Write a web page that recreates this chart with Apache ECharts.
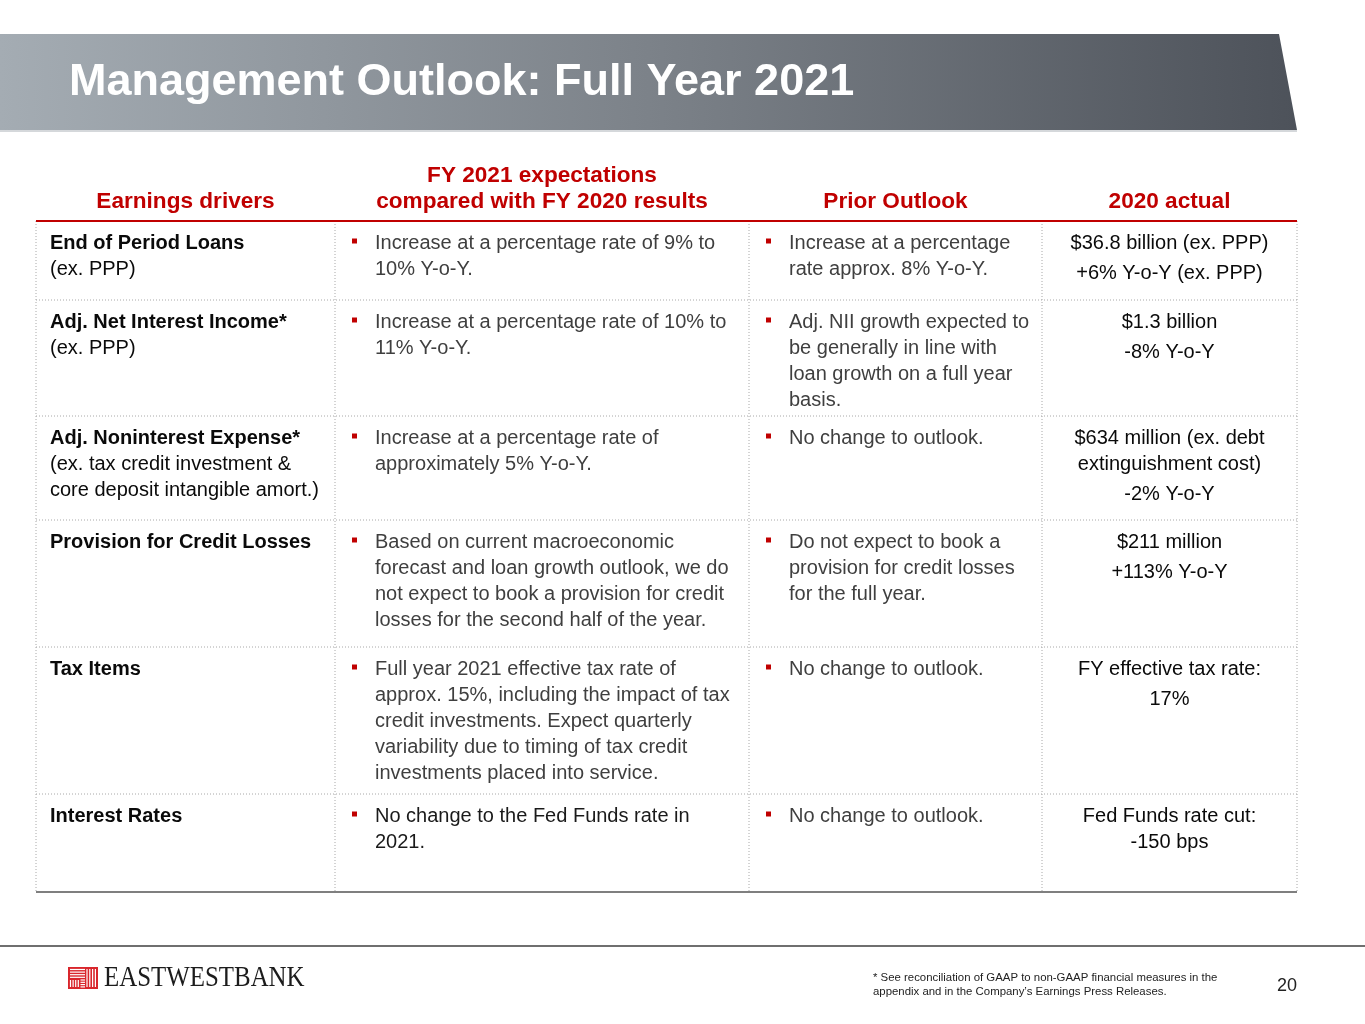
<!DOCTYPE html>
<html>
<head>
<meta charset="utf-8">
<script src="https://cdn.jsdelivr.net/npm/echarts@6/dist/echarts.min.js"></script>
<style>
html,body{margin:0;padding:0;background:#fff;}
#main{width:1365px;height:1024px;}
</style>
</head>
<body>
<div id="main"></div>
<script>
// ---- content ----
const pageTitle = 'Management Outlook: Full Year 2021';
const headers = [
  ['Earnings drivers'],
  ['FY 2021 expectations', 'compared with FY 2020 results'],
  ['Prior Outlook'],
  ['2020 actual']
];
const driverTitles = [
  'End of Period Loans',
  'Adj. Net Interest Income*',
  'Adj. Noninterest Expense*',
  'Provision for Credit Losses',
  'Tax Items',
  'Interest Rates'
];
const driverNotes = [
  ['(ex. PPP)'],
  ['(ex. PPP)'],
  ['(ex. tax credit investment &', 'core deposit intangible amort.)'],
  [],
  [],
  []
];
const expectations = [
  ['Increase at a percentage rate of 9% to', '10% Y-o-Y.'],
  ['Increase at a percentage rate of 10% to', '11% Y-o-Y.'],
  ['Increase at a percentage rate of', 'approximately 5% Y-o-Y.'],
  ['Based on current macroeconomic', 'forecast and loan growth outlook, we do', 'not expect to book a provision for credit', 'losses for the second half of the year.'],
  ['Full year 2021 effective tax rate of', 'approx. 15%, including the impact of tax', 'credit investments. Expect quarterly', 'variability due to timing of tax credit', 'investments placed into service.'],
  ['No change to the Fed Funds rate in', '2021.']
];
const priorOutlook = [
  ['Increase at a percentage', 'rate approx. 8% Y-o-Y.'],
  ['Adj. NII growth expected to', 'be generally in line with', 'loan growth on a full year', 'basis.'],
  ['No change to outlook.'],
  ['Do not expect to book a', 'provision for credit losses', 'for the full year.'],
  ['No change to outlook.'],
  ['No change to outlook.']
];
const actual2020 = [
  [['$36.8 billion (ex. PPP)'], ['+6% Y-o-Y (ex. PPP)']],
  [['$1.3 billion'], ['-8% Y-o-Y']],
  [['$634 million (ex. debt', 'extinguishment cost)'], ['-2% Y-o-Y']],
  [['$211 million'], ['+113% Y-o-Y']],
  [['FY effective tax rate:'], ['17%']],
  [['Fed Funds rate cut:', '-150 bps']]
];
const footnote = ['* See reconciliation of GAAP to non-GAAP financial measures in the', 'appendix and in the Company\u2019s Earnings Press Releases.'];
const pageNumber = '20';
const logoText = 'EASTWESTBANK';

// ---- layout ----
const L = {
  colX: [36, 335, 749, 1042, 1297],
  rowY: [221, 300, 416, 520, 647, 794, 892],
  lineH: 26,
  paraH: 30.5,
  firstOff: 22,
  font: '"Liberation Sans", Arial, sans-serif'
};
const RED = '#c00000';
const G = [];

// title banner
G.push({type:'polygon', shape:{points:[[0,34],[1279,34],[1297,130],[0,130]]},
  style:{fill:new echarts.graphic.LinearGradient(0,0,1,0,[{offset:0,color:'#a4acb3'},{offset:0.5,color:'#7c8289'},{offset:1,color:'#4d525a'}])}});
G.push({type:'line', shape:{x1:0,y1:131,x2:1297,y2:131}, style:{stroke:'#d5d8db',lineWidth:2}});
G.push({type:'text', x:69, y:83, style:{text:pageTitle, fill:'#fff', font:'bold 45px '+L.font, textVerticalAlign:'middle'}});

// headers
headers.forEach((h, c) => {
  const cx = (L.colX[c] + L.colX[c+1]) / 2;
  h.forEach((t, i) => {
    const y = 202 - (h.length - 1 - i) * 26;
    G.push({type:'text', x:cx, y:y, style:{text:t, fill:RED, font:'bold 22.6px '+L.font, textAlign:'center', textVerticalAlign:'middle'}});
  });
});

// grid lines
const dotted = {stroke:'#a8a8a8', lineWidth:1, lineDash:[1,2]};
for (let r = 1; r < L.rowY.length - 1; r++) {
  G.push({type:'line', shape:{x1:L.colX[0],y1:L.rowY[r],x2:L.colX[4],y2:L.rowY[r]}, style:dotted});
}
L.colX.forEach(x => {
  G.push({type:'line', shape:{x1:x,y1:L.rowY[0],x2:x,y2:L.rowY[L.rowY.length-1]}, style:dotted});
});
G.push({type:'line', shape:{x1:L.colX[0],y1:L.rowY[0],x2:L.colX[4],y2:L.rowY[0]}, style:{stroke:RED,lineWidth:2}});
G.push({type:'line', shape:{x1:L.colX[0],y1:L.rowY[6],x2:L.colX[4],y2:L.rowY[6]}, style:{stroke:'#7f7f7f',lineWidth:2}});

function txt(x, y, t, opts) {
  G.push({type:'text', x:x, y:y, style:Object.assign({text:t, fill:'#111', font:'20px '+L.font, textVerticalAlign:'middle'}, opts||{})});
}
function bulletList(colIdx, rowIdx, lines, color) {
  const top = L.rowY[rowIdx] + L.firstOff;
  const bx = L.colX[colIdx] + 17;
  G.push({type:'rect', shape:{x:bx, y:top-4.5, width:5, height:5}, style:{fill:RED}});
  lines.forEach((t, i) => txt(L.colX[colIdx] + 40, top + i*L.lineH, t, {fill:color}));
}

driverTitles.forEach((title, r) => {
  const top = L.rowY[r] + L.firstOff;
  txt(50, top, title, {font:'bold 20px '+L.font, fill:'#0a0a0a'});
  driverNotes[r].forEach((n, i) => txt(50, top + (i+1)*L.lineH, n, {fill:'#0a0a0a'}));
  bulletList(1, r, expectations[r], r === 5 ? '#1a1a1a' : '#3f3f3f');
  bulletList(2, r, priorOutlook[r], '#3f3f3f');
  const cx = (L.colX[3] + L.colX[4]) / 2;
  let y = top;
  actual2020[r].forEach((para, p) => {
    if (p > 0) y += L.paraH;
    para.forEach((t, i) => {
      if (i > 0) y += L.lineH;
      txt(cx, y, t, {textAlign:'center', fill:'#0a0a0a'});
    });
  });
});

// footer
G.push({type:'line', shape:{x1:0,y1:946,x2:1365,y2:946}, style:{stroke:'#6f6f6f',lineWidth:2}});
footnote.forEach((t, i) => txt(873, 978 + i*14, t, {font:'11.4px '+L.font, fill:'#222'}));
txt(1297, 986, pageNumber, {font:'18px '+L.font, textAlign:'right', fill:'#222'});

// logo
const lx = 68, ly = 967, lw = 30, lh = 22;
G.push({type:'rect', shape:{x:lx, y:ly, width:lw, height:lh}, style:{fill:'#d9262c'}});
const w = {stroke:'#fff', lineWidth:1.2};
for (let i = 0; i < 4; i++) {
  G.push({type:'line', shape:{x1:lx+2, y1:ly+2.5+i*2.6, x2:lx+17, y2:ly+2.5+i*2.6}, style:w});
  G.push({type:'line', shape:{x1:lx+19+i*2.8, y1:ly+2, x2:lx+19+i*2.8, y2:ly+20}, style:w});
  G.push({type:'line', shape:{x1:lx+2.5+i*2.6, y1:ly+13, x2:lx+2.5+i*2.6, y2:ly+20}, style:w});
  G.push({type:'line', shape:{x1:lx+12.5, y1:ly+13+i*2.3, x2:lx+17, y2:ly+13+i*2.3}, style:w});
}
G.push({type:'text', x:104, y:978, scaleX:0.83, style:{text:logoText, fill:'#1c1c1c', font:'30px "Liberation Serif", "Times New Roman", serif', textVerticalAlign:'middle'}});

const chart = echarts.init(document.getElementById('main'), null, {renderer:'canvas'});
chart.setOption({animation:false, backgroundColor:'#fff', graphic:{elements:G}});
</script>
</body>
</html>
